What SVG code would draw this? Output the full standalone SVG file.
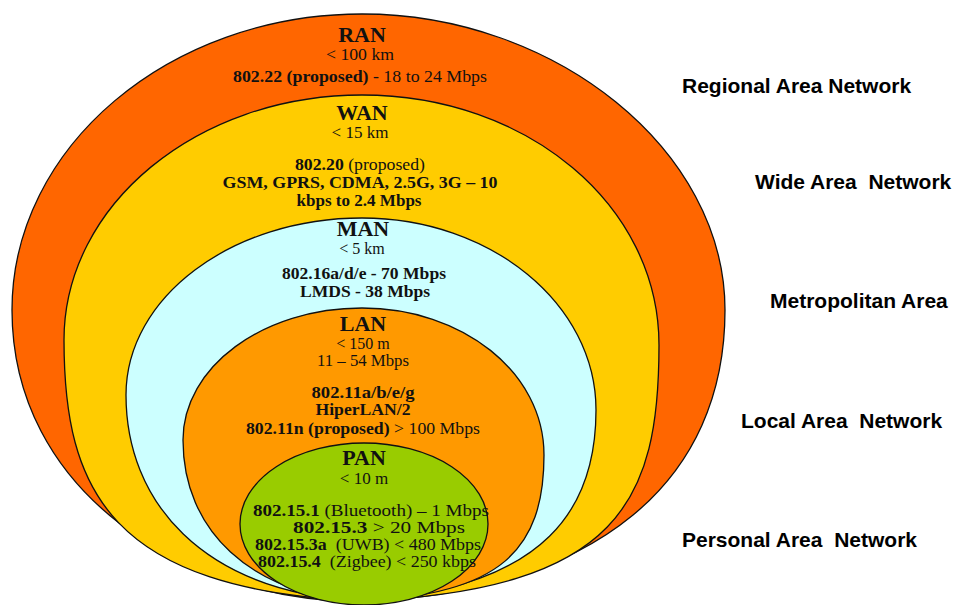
<svg xmlns="http://www.w3.org/2000/svg" width="954" height="605" viewBox="0 0 954 605">
<style>
.shape{stroke:#111;stroke-width:1.3}
.t{font-family:"Liberation Serif","Times New Roman",serif;fill:#111;text-anchor:middle;font-size:17px}
.h{font-size:22px;font-weight:bold}
.b{font-weight:bold}
.p{font-size:16px}
.s{font-size:16px}
.lbl{font-family:"Liberation Sans",Arial,sans-serif;font-weight:bold;font-size:21px;fill:#000;white-space:pre}
</style>
<rect width="954" height="605" fill="#fff"/>
<g id="ran">
<path class="shape" fill="#FF6600" d="M362,602 C180,600 12,490 12,310 C12,147 169,14 362,14 C555,14 725,150 725,310 C725,480 600,590 362,602 Z"/>
<text class="t h" x="362" y="42">RAN</text>
<text class="t" x="360" y="60" textLength="68" lengthAdjust="spacingAndGlyphs">&lt; 100 km</text>
<text class="t" x="360" y="82" textLength="254" lengthAdjust="spacingAndGlyphs"><tspan class="b">802.22 (proposed)</tspan> - 18 to 24 Mbps</text>
</g>
<g id="wan">
<path class="shape" fill="#FFCC00" d="M362,601 C110,590 64,490 64,340 C64,205 197,95 362,95 C527,95 659,205 659,345 C659,500 620,590 362,601 Z"/>
<text class="t h" x="362" y="120">WAN</text>
<text class="t" x="360" y="138">&lt; 15 km</text>
<text class="t" x="360" y="170" textLength="130" lengthAdjust="spacingAndGlyphs"><tspan class="b">802.20</tspan> (proposed)</text>
<text class="t b" x="360" y="188" textLength="275" lengthAdjust="spacingAndGlyphs">GSM, GPRS, CDMA, 2.5G, 3G – 10</text>
<text class="t b" x="359" y="206" textLength="125" lengthAdjust="spacingAndGlyphs">kbps to 2.4 Mbps</text>
</g>
<g id="man">
<path class="shape" fill="#CCFFFF" d="M362,601 C200,592 126,500 126,395 C126,297 232,218 362,218 C491,218 596,304 596,410 C596,505 550,588 362,601 Z"/>
<text class="t h" x="363" y="236">MAN</text>
<text class="t s" x="362" y="254">&lt; 5 km</text>
<text class="t b" x="364" y="279" textLength="164" lengthAdjust="spacingAndGlyphs">802.16a/d/e - 70 Mbps</text>
<text class="t b" x="365" y="297" textLength="130" lengthAdjust="spacingAndGlyphs">LMDS - 38 Mbps</text>
</g>
<g id="lan">
<path class="shape" fill="#FF9900" d="M362,601 C250,595 183,530 183,440 C183,367 263,308 362,308 C462,308 544,372 544,455 C544,550 500,595 362,601 Z"/>
<text class="t h" x="363" y="331">LAN</text>
<text class="t s" x="363" y="349">&lt; 150 m</text>
<text class="t s" x="363" y="366" textLength="92" lengthAdjust="spacingAndGlyphs">11 – 54 Mbps</text>
<text class="t b s" x="363" y="398" textLength="103" lengthAdjust="spacingAndGlyphs">802.11a/b/e/g</text>
<text class="t b s" x="363" y="415" textLength="95" lengthAdjust="spacingAndGlyphs">HiperLAN/2</text>
<text class="t" x="363" y="434" textLength="234" lengthAdjust="spacingAndGlyphs"><tspan class="b">802.11n (proposed)</tspan> &gt; 100 Mbps</text>
</g>
<g id="pan">
<ellipse class="shape" fill="#99CC00" cx="364" cy="524" rx="124" ry="81"/>
<text class="t h" x="364" y="465">PAN</text>
<text class="t" x="364" y="484">&lt; 10 m</text>
<text class="t p" x="371" y="516" textLength="236" lengthAdjust="spacingAndGlyphs"><tspan class="b">802.15.1</tspan> (Bluetooth) – 1 Mbps</text>
<text class="t p" x="379" y="533" textLength="172" lengthAdjust="spacingAndGlyphs"><tspan class="b">802.15.3</tspan> &gt; 20 Mbps</text>
<text class="t p" x="368" y="550" textLength="226" lengthAdjust="spacingAndGlyphs" xml:space="preserve"><tspan class="b">802.15.3a</tspan>  (UWB) &lt; 480 Mbps</text>
<text class="t p" x="367" y="567" textLength="218" lengthAdjust="spacingAndGlyphs" xml:space="preserve"><tspan class="b">802.15.4</tspan>  (Zigbee) &lt; 250 kbps</text>
</g>
<g id="labels">
<text class="lbl" x="682" y="93">Regional Area Network</text>
<text class="lbl" x="755" y="189" xml:space="preserve">Wide Area  Network</text>
<text class="lbl" x="770" y="308">Metropolitan Area</text>
<text class="lbl" x="741" y="428" xml:space="preserve">Local Area  Network</text>
<text class="lbl" x="682" y="547" xml:space="preserve">Personal Area  Network</text>
</g>
<g id="connectors"></g>
</svg>
